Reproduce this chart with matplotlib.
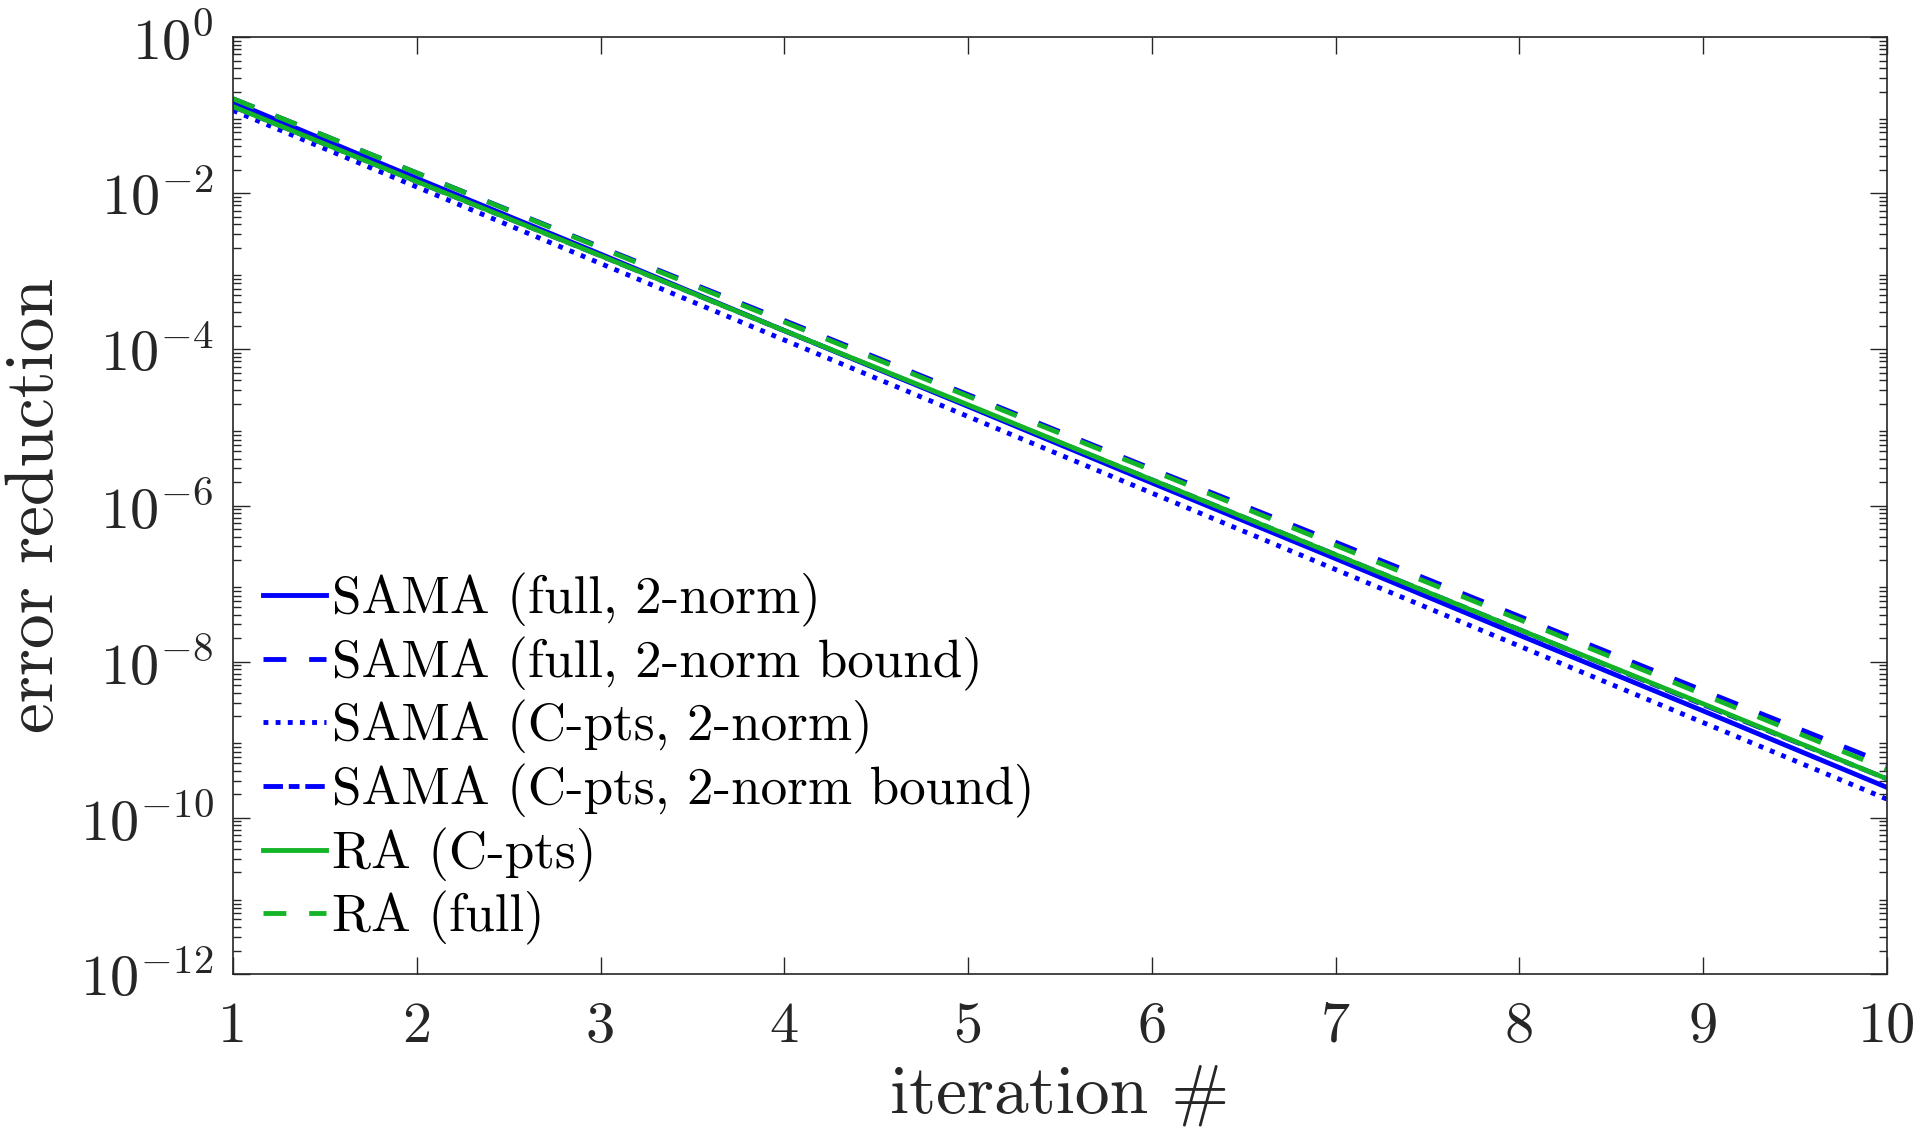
import numpy as np
import matplotlib
matplotlib.use("Agg")
import matplotlib.pyplot as plt
from matplotlib.ticker import LogLocator, FixedLocator, NullFormatter

plt.rcParams['font.family'] = ['cmr10']
plt.rcParams['mathtext.fontset'] = 'cm'
plt.rcParams['axes.formatter.use_mathtext'] = True

iterations = [1, 2, 3, 4, 5, 6, 7, 8, 9, 10]
# log10 of error reduction
sama_full_2norm = [-0.83, -1.81, -2.78, -3.76, -4.73, -5.71, -6.68, -7.66, -8.63, -9.61]
sama_full_bound = [-0.79, -1.74, -2.69, -3.63, -4.58, -5.53, -6.47, -7.42, -8.37, -9.31]
sama_cpts_2norm = [-0.94, -1.92, -2.90, -3.88, -4.86, -5.84, -6.82, -7.80, -8.78, -9.76]
sama_cpts_bound = [-0.89, -1.85, -2.80, -3.76, -4.72, -5.67, -6.63, -7.59, -8.55, -9.50]
ra_cpts = [-0.89, -1.85, -2.80, -3.76, -4.71, -5.67, -6.63, -7.59, -8.54, -9.50]
ra_full = [-0.79, -1.74, -2.70, -3.65, -4.60, -5.55, -6.51, -7.46, -8.42, -9.38]

labels = ['SAMA (full, 2-norm)', 'SAMA (full, 2-norm bound)', 'SAMA (C-pts, 2-norm)',
          'SAMA (C-pts, 2-norm bound)', 'RA (C-pts)', 'RA (full)']
xticks = [1, 2, 3, 4, 5, 6, 7, 8, 9, 10]

blue = '#0000ff'
green = '#14b428'
lw = 3.5

fig = plt.figure(figsize=(19.19, 11.40), dpi=100)
ax = fig.add_axes([0.1214, 0.1456, 0.9833 - 0.1214, 0.9675 - 0.1456])

x = np.array(iterations)
ax.plot(x, 10.0 ** np.array(sama_full_2norm), color=blue, lw=lw, ls='-', label=labels[0])
ax.plot(x, 10.0 ** np.array(sama_full_bound), color=blue, lw=lw, dashes=(4.7, 4.7), label=labels[1])
ax.plot(x, 10.0 ** np.array(sama_cpts_2norm), color=blue, lw=lw, dashes=(1.0, 1.5), label=labels[2])
ax.plot(x, 10.0 ** np.array(sama_cpts_bound), color=blue, lw=lw, dashes=(4.0, 1.2, 2.2, 1.2), label=labels[3])
ax.plot(x, 10.0 ** np.array(ra_cpts), color=green, lw=lw, ls='-', label=labels[4])
ax.plot(x, 10.0 ** np.array(ra_full), color=green, lw=lw, dashes=(4.7, 4.7), label=labels[5])

ax.set_yscale('log')
ax.set_xlim(1, 10)
ax.set_ylim(1e-12, 1e0)
ax.xaxis.set_major_locator(FixedLocator(xticks))
ax.set_xticklabels([str(t) for t in xticks])
ax.yaxis.set_major_locator(FixedLocator([10.0 ** k for k in range(-12, 1, 2)]))
ax.set_yticklabels([r'$10^{%d}$' % k for k in range(-12, 1, 2)])
ax.yaxis.set_minor_locator(LogLocator(base=10, subs=np.arange(2, 10), numticks=100))
ax.yaxis.set_minor_formatter(NullFormatter())

axcol = '#262626'
for s in ax.spines.values():
    s.set_color(axcol)
    s.set_linewidth(1.2)
ax.tick_params(axis='both', which='both', direction='in', top=True, right=True,
               colors=axcol, labelcolor='#262626')
ax.tick_params(axis='both', which='major', length=12, width=1.0, labelsize=42)
ax.tick_params(axis='y', which='minor', length=6, width=1.0)
ax.tick_params(axis='x', which='major', pad=20)
ax.tick_params(axis='y', which='major', pad=14)

ax.set_xlabel('iteration #', fontsize=50, color='#262626', labelpad=8)
ax.set_ylabel('error reduction', fontsize=50, color='#262626', labelpad=10)

leg = ax.legend(loc='upper left', bbox_to_anchor=(0.018, 0.428), frameon=False,
                fontsize=38.2, handlelength=1.2, handletextpad=0.1,
                labelspacing=0.18, borderpad=0, borderaxespad=0)

fig.savefig('out.png', dpi=100, facecolor='white')
